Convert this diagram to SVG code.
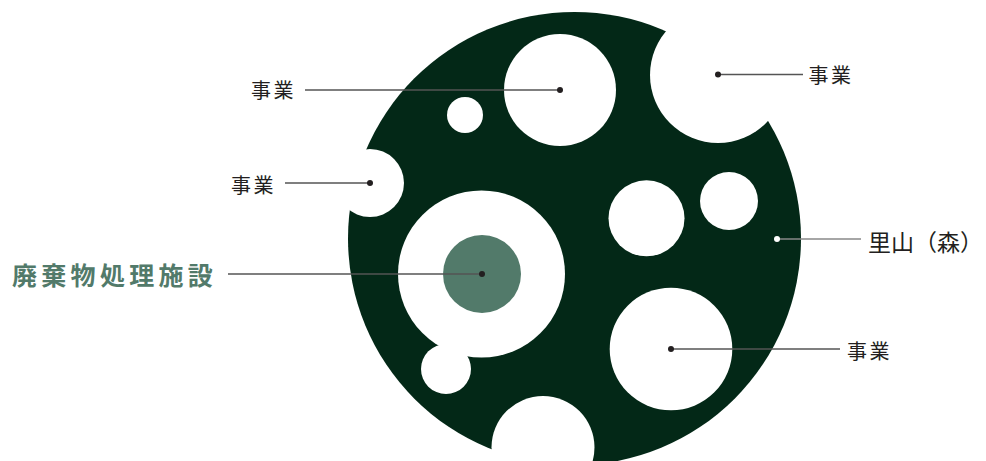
<svg xmlns="http://www.w3.org/2000/svg" width="986" height="461" viewBox="0 0 986 461">
<style>
.hole{fill:#ffffff}
.lbl{font-family:"Noto Sans CJK JP","Noto Sans",sans-serif;font-size:20px;fill:#231f20;letter-spacing:2.5px}
.ln{stroke:#555555;stroke-width:1.3;fill:none}
.dot{fill:#231f20}
</style>
<rect width="986" height="461" fill="#ffffff"/>
<g id="forest">
<circle cx="574.5" cy="238.5" r="226.5" fill="#032817"/>
<circle class="hole" cx="560" cy="90" r="56"/>
<circle class="hole" cx="465" cy="115" r="18"/>
<circle class="hole" cx="718" cy="75" r="68"/>
<circle class="hole" cx="370" cy="183" r="34"/>
<circle class="hole" cx="481.5" cy="274" r="83.5"/>
<circle class="hole" cx="446" cy="369" r="25"/>
<circle class="hole" cx="543" cy="447.5" r="51.5"/>
<circle class="hole" cx="671" cy="349" r="61.3"/>
<circle class="hole" cx="646.5" cy="218.3" r="38"/>
<circle class="hole" cx="729" cy="201" r="29"/>
</g>
<g id="facility">
<circle cx="482" cy="274" r="39" fill="#527a6a"/>
</g>
<g id="connectors">
<line class="ln" x1="305" y1="90" x2="560" y2="90"/>
<circle class="dot" cx="560" cy="90" r="3"/>
<line class="ln" x1="718" y1="74.5" x2="803" y2="74.5"/>
<circle class="dot" cx="718" cy="74.5" r="3"/>
<line class="ln" x1="285" y1="183" x2="370" y2="183"/>
<circle class="dot" cx="370" cy="183" r="3"/>
<line class="ln" x1="228" y1="274" x2="482" y2="274"/>
<circle class="dot" cx="482" cy="274" r="3"/>
<line x1="777" y1="239" x2="861" y2="239" stroke="#888888" stroke-width="1.3"/>
<circle cx="777" cy="239" r="3" fill="#ffffff"/>
<line class="ln" x1="671" y1="349" x2="840" y2="349"/>
<circle class="dot" cx="671" cy="349" r="3"/>
</g>
<g id="label-jigyo-1"><text class="lbl" x="251" y="98">事業</text></g>
<g id="label-jigyo-2"><text class="lbl" x="808.5" y="83">事業</text></g>
<g id="label-jigyo-3"><text class="lbl" x="231" y="193">事業</text></g>
<g id="label-jigyo-4"><text class="lbl" x="847" y="358.5">事業</text></g>
<g id="label-satoyama"><text x="868" y="251" font-family="Noto Sans CJK JP,Noto Sans,sans-serif" font-size="23" fill="#231f20">里山（森）</text></g>
<g id="label-facility"><text x="12" y="285" font-family="Noto Sans CJK JP,Noto Sans,sans-serif" font-size="25" font-weight="bold" fill="#527a6a" letter-spacing="4.3">廃棄物処理施設</text></g>
</svg>
